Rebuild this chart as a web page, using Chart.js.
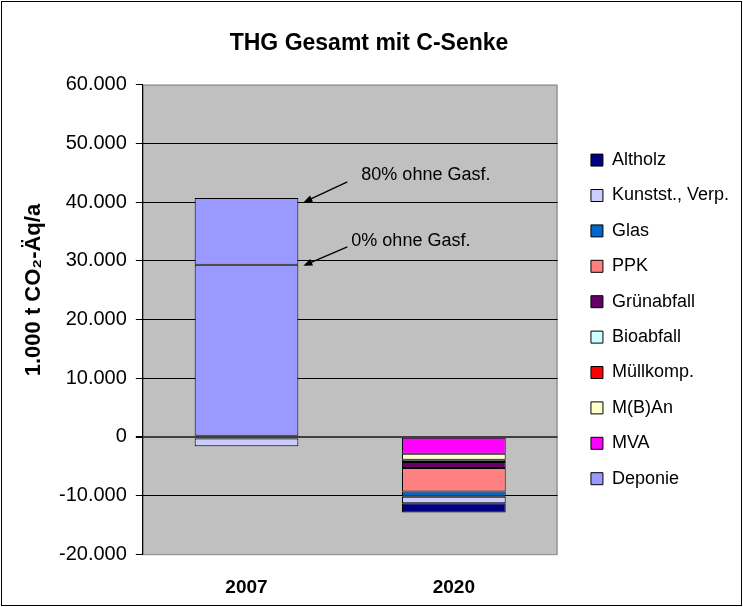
<!DOCTYPE html>
<html>
<head>
<meta charset="utf-8">
<script src="https://cdn.jsdelivr.net/npm/chart.js@4.4.1/dist/chart.umd.min.js"></script>
<style>
    html, body { margin: 0; padding: 0; background: #fff; }
    canvas { display: block; }
</style>
</head>
<body>
<canvas id="thg-chart" width="743" height="607"></canvas>
<script>
// Categories and stacked series (1.000 t CO2-Äq/a)
const years = ['2007', '2020'];
const deponie = [29300, 0];
const deponieGasf = [11400, 0];   // extra bei 80% ohne Gasfassung
const mva = [0, -2900];
const mban = [0, -1000];
const muellkomp = [-300, 0];
const bioabfall = [0, -400];
const gruenabfall = [0, -1000];
const ppk = [0, -4000];
const glas = [0, -900];
const kunststoff = [-1300, -1100];
const altholz = [0, -1600];

const yTicks = [-20000, -10000, 0, 10000, 20000, 30000, 40000, 50000, 60000];
const yTitle = '1.000 t CO₂-Äq/a';

const FONT = "'Liberation Sans', Arial, sans-serif";

function series(label, data, color) {
    return {
        label: label,
        data: data,
        backgroundColor: color,
        borderColor: '#000',
        borderWidth: 1,
        borderSkipped: false
    };
}

// German thousands separator
function fmt(v) {
    return String(v).replace(/\B(?=(\d{3})+(?!\d))/g, '.');
}

// white page, outer frame, grey plot area
const plotBackground = {
    id: 'plotBackground',
    beforeDraw(chart) {
        const {ctx, chartArea: a, width, height} = chart;
        ctx.save();
        ctx.fillStyle = '#fff';
        ctx.fillRect(0, 0, width, height);
        ctx.strokeStyle = '#000';
        ctx.lineWidth = 1;
        ctx.strokeRect(1.5, 1.5, width - 3, height - 3);
        ctx.fillStyle = '#c0c0c0';
        ctx.fillRect(a.left, a.top, a.right - a.left, a.bottom - a.top);
        ctx.strokeStyle = '#808080';
        ctx.strokeRect(a.left + 0.5, a.top + 0.5, a.right - a.left - 1, a.bottom - a.top);
        ctx.restore();
    }
};

// push the legend to the right edge, leaving a gap next to the plot area
const legendGap = {
    id: 'legendGap',
    afterLayout(chart) {
        const lg = chart.legend;
        const shift = (chart.width - 4) - lg.right;
        lg.left += shift;
        lg.right += shift;
    }
};

// rotated unit label, sitting a bit above the middle of the value axis
const unitLabel = {
    id: 'unitLabel',
    afterDraw(chart) {
        const {ctx, scales: {y}} = chart;
        ctx.save();
        ctx.translate(34, y.getPixelForValue(25000));
        ctx.rotate(-Math.PI / 2);
        ctx.font = 'bold 22px ' + FONT;
        ctx.fillStyle = '#000';
        ctx.textAlign = 'center';
        ctx.textBaseline = 'middle';
        ctx.fillText(yTitle, 0, 0);
        ctx.restore();
    }
};

function arrow(ctx, x1, y1, x2, y2) {
    const ang = Math.atan2(y2 - y1, x2 - x1);
    const len = 9, half = 3.5;
    ctx.beginPath();
    ctx.moveTo(x1, y1);
    ctx.lineTo(x2 - Math.cos(ang) * len * 0.8, y2 - Math.sin(ang) * len * 0.8);
    ctx.stroke();
    ctx.beginPath();
    ctx.moveTo(x2, y2);
    ctx.lineTo(x2 - Math.cos(ang) * len + Math.sin(ang) * half, y2 - Math.sin(ang) * len - Math.cos(ang) * half);
    ctx.lineTo(x2 - Math.cos(ang) * len - Math.sin(ang) * half, y2 - Math.sin(ang) * len + Math.cos(ang) * half);
    ctx.closePath();
    ctx.fill();
}

// labels for the two Deponie levels of the 2007 column
const gasfNotes = {
    id: 'gasfNotes',
    afterDatasetsDraw(chart) {
        const {ctx, scales: {y}} = chart;
        const bar = chart.getDatasetMeta(10).data[0];
        const right = bar.x + bar.width / 2;
        const yTop = y.getPixelForValue(deponie[0] + deponieGasf[0]);
        const yMid = y.getPixelForValue(deponie[0]);
        ctx.save();
        ctx.strokeStyle = '#000';
        ctx.fillStyle = '#000';
        ctx.lineWidth = 1.3;
        arrow(ctx, right + 49, yTop - 16, right + 5, yTop + 4.5);
        arrow(ctx, right + 49, yMid - 18, right + 5, yMid + 1);
        ctx.font = '18px ' + FONT;
        ctx.textBaseline = 'middle';
        ctx.fillText('80% ohne Gasf.', right + 63, yTop - 23);
        ctx.fillText('0% ohne Gasf.', right + 53, yMid - 24);
        ctx.restore();
    }
};

new Chart(document.getElementById('thg-chart'), {
    type: 'bar',
    data: {
        labels: years,
        datasets: [
            series('Deponie', deponie, '#9999ff'),
            series('MVA', mva, '#ff00ff'),
            series('M(B)An', mban, '#ffffcc'),
            series('Müllkomp.', muellkomp, '#ff0000'),
            series('Bioabfall', bioabfall, '#ccffff'),
            series('Grünabfall', gruenabfall, '#660066'),
            series('PPK', ppk, '#ff8080'),
            series('Glas', glas, '#0066cc'),
            series('Kunstst., Verp.', kunststoff, '#ccccff'),
            series('Altholz', altholz, '#000080'),
            series('Deponie 80% ohne Gasf.', deponieGasf, '#9999ff')
        ]
    },
    options: {
        responsive: false,
        devicePixelRatio: 1,
        animation: false,
        layout: {
            padding: { top: 0, right: 20, bottom: -14, left: 15 }
        },
        datasets: {
            bar: {
                barPercentage: 0.5,
                categoryPercentage: 1
            }
        },
        plugins: {
            title: {
                display: true,
                text: 'THG Gesamt mit C-Senke',
                color: '#000',
                font: { family: FONT, size: 23, weight: 'bold' },
                padding: { top: 30, bottom: 27 }
            },
            legend: {
                position: 'right',
                fullSize: false,
                reverse: true,
                labels: {
                    color: '#000',
                    font: { family: FONT, size: 18 },
                    boxWidth: 12,
                    boxHeight: 12,
                    padding: 17.4,
                    filter: (item) => item.datasetIndex !== 10
                }
            },
            tooltip: { enabled: false }
        },
        scales: {
            x: {
                stacked: true,
                grid: { display: false, drawTicks: false },
                border: { display: false },
                ticks: {
                    color: '#000',
                    padding: 22,
                    font: { family: FONT, size: 19, weight: 'bold' }
                }
            },
            y: {
                stacked: true,
                min: yTicks[0],
                max: yTicks[yTicks.length - 1],
                afterBuildTicks: (scale) => {
                    scale.ticks = yTicks.map(v => ({ value: v }));
                },
                // room for the rotated unit label
                afterFit: (scale) => { scale.width += 35; },
                grid: {
                    color: (c) => {
                        const v = c.tick ? c.tick.value : null;
                        if (v === yTicks[0] || v === yTicks[yTicks.length - 1]) return 'rgba(0,0,0,0)';
                        return v === 0 ? '#404040' : '#000';
                    },
                    lineWidth: (c) => (c.tick && c.tick.value === 0 ? 2 : 1),
                    tickColor: '#000',
                    tickLength: 7
                },
                border: { display: true, color: '#000', width: 1 },
                ticks: {
                    color: '#000',
                    padding: 9,
                    font: { family: FONT, size: 20 },
                    callback: (v) => fmt(v)
                }
            }
        }
    },
    plugins: [plotBackground, legendGap, unitLabel, gasfNotes]
});
</script>
</body>
</html>
